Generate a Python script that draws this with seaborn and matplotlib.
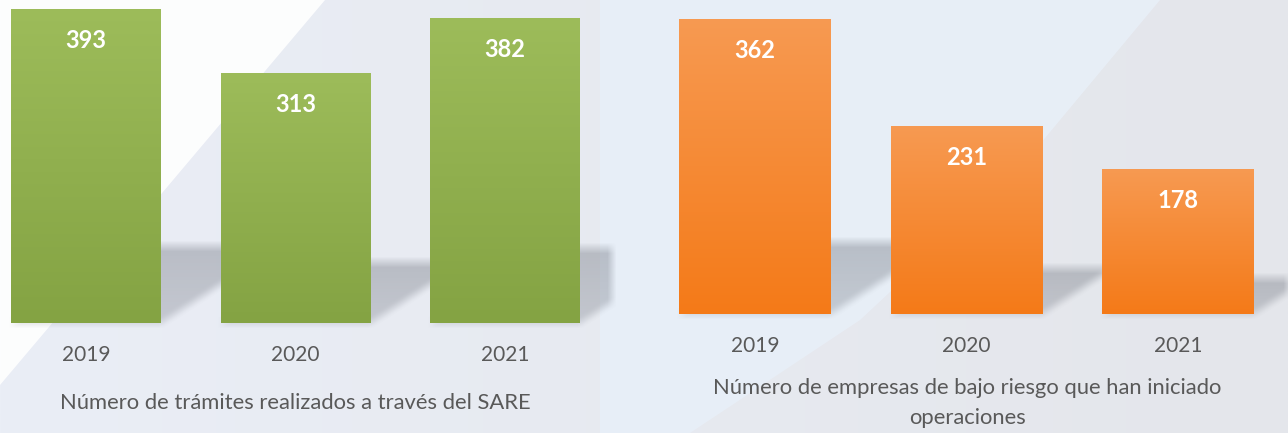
import numpy as np
import pandas as pd
import matplotlib
matplotlib.use("Agg")
import matplotlib.pyplot as plt
import seaborn as sns
from matplotlib.colors import to_rgb
from matplotlib.patches import Polygon

# ---------------- data ----------------
years = ["2019", "2020", "2021"]
tramites = [393, 313, 382]
empresas = [362, 231, 178]
title_left = "Número de trámites realizados a través del SARE"
title_right = "Número de empresas de bajo riesgo que han iniciado\noperaciones"

sns.set_theme(style="white")
plt.rcParams['font.family'] = ['Lato', 'DejaVu Sans']

W, H = 1288, 433
fig = plt.figure(figsize=(W / 100, H / 100), dpi=100)

# ---------------- background ----------------
bg = fig.add_axes([0, 0, 1, 1], zorder=0)
bg.set_xlim(0, W)
bg.set_ylim(0, H)
bg.axis('off')
t = np.linspace(0, 1, 512)[None, :, None]
c1 = np.array(to_rgb('#eaeef6'))
c2 = np.array(to_rgb('#e4e6eb'))
img = c1 * (1 - t) + c2 * t
bg.imshow(img, extent=[0, W, 0, H], aspect='auto', origin='lower', zorder=0)
bg.add_patch(Polygon([(0, H), (325, H), (0, H - 385)], closed=True,
                     fc='white', ec='none', alpha=0.9, zorder=1))
bg.add_patch(Polygon([(600, H), (1160, H), (1010, H - 180), (860, H - 320),
                      (690, 0), (600, 0)], closed=True,
                     fc='#e8eff8', ec='none', alpha=0.9, zorder=1))


def gradient_fill(ax, patch, top, bottom):
    x0, w, h = patch.get_x(), patch.get_width(), patch.get_height()
    g = np.linspace(0, 1, 256)[:, None, None]
    arr = np.array(to_rgb(bottom)) * (1 - g) + np.array(to_rgb(top)) * g
    im = ax.imshow(arr, extent=[x0, x0 + w, 0, h], aspect='auto',
                   origin='lower', zorder=patch.get_zorder() + 0.1)
    im.set_clip_path(patch)


def panel(rect, values, top, bottom, xlim, ylim, pad):
    ax = fig.add_axes(rect, zorder=2)
    ax.patch.set_alpha(0)
    df = pd.DataFrame({"year": years, "value": values})
    sns.barplot(data=df, x="year", y="value", ax=ax, color=top,
                width=0.715, saturation=1, edgecolor='none')
    for p in list(ax.patches):
        gradient_fill(ax, p, top, bottom)
    for i, v in enumerate(values):
        ax.annotate(str(v), (i, v), xytext=(0, -23), textcoords='offset points',
                    ha='center', va='center', color='white',
                    fontweight='bold', fontsize=17, zorder=5)
    ax.set_xlim(*xlim)
    ax.set_ylim(*ylim)
    ax.set_xlabel("")
    ax.set_ylabel("")
    ax.set_yticks([])
    for s in ax.spines.values():
        s.set_visible(False)
    ax.tick_params(axis='x', length=0, pad=pad, labelsize=15, labelcolor='#595959')
    return ax


axL = panel([0, (H - 323) / H, 640 / W, 323 / H], tramites, '#9dbc5a', '#84a343',
            (-86 / 209.5, (640 - 86) / 209.5), (0, 323 / 0.799), 15.5)
axR = panel([644 / W, (H - 314) / H, 644 / W, 314 / H], empresas, '#f79a52', '#f47a18',
            (-(755 - 644) / 211.5, (1288 - 755) / 211.5), (0, 314 / 0.815), 16)

# ---------------- cast shadows (from bar geometry) ----------------
yy, xx = np.mgrid[0:H, 0:W] + 0.5
mask = np.zeros((H, W))
for ax, xmax in ((axL, 612), (axR, W)):
    for p in ax.patches:
        (x0, y0), (x1, y1) = ax.transData.transform(
            [(p.get_x(), 0), (p.get_x() + p.get_width(), p.get_height())])
        h = y1 - y0
        s = 0.245 * h
        dx = 1.55 * s
        rel = (yy - y0)
        frac = np.clip(rel / s, 0, 1)
        inside = (rel >= 0) & (rel <= s) & (xx >= x0 + rel * dx / s) & \
                 (xx <= x1 + rel * dx / s) & (xx <= xmax)
        mask = np.maximum(mask, inside * (0.75 + 0.25 * frac))


def box_blur(a, r, axis):
    k = np.ones(2 * r + 1) / (2 * r + 1)
    return np.apply_along_axis(lambda m: np.convolve(m, k, mode='same'), axis, a)


mask = box_blur(box_blur(mask, 5, 0), 4, 1)
shadow = np.zeros((H, W, 4))
shadow[..., :3] = to_rgb('#5a5f6a')
shadow[..., 3] = 0.34 * mask
bg.imshow(shadow, extent=[0, W, 0, H], aspect='auto', origin='lower', zorder=2)
bg.set_xlim(0, W)
bg.set_ylim(0, H)

# ---------------- titles ----------------
fig.text(295 / W, 1 - 403 / H, title_left, ha='center', va='center',
         fontsize=15.8, color='#595959')
fig.text(967 / W, 1 - 403 / H, title_right, ha='center', va='center',
         fontsize=15.8, color='#595959', linespacing=1.6, multialignment='center')

fig.savefig("out.png", dpi=100)
